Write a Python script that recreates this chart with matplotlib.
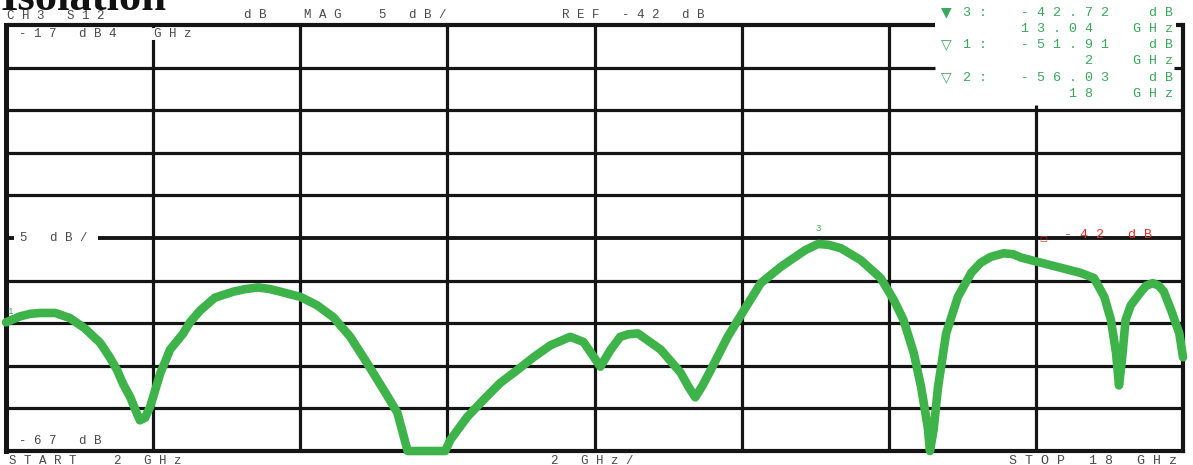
import matplotlib
matplotlib.use("Agg")
import matplotlib.pyplot as plt
import numpy as np

W, H = 1193, 465

# ---- data ----
freq_ghz = [2.0, 2.19, 2.33, 2.46, 2.67, 2.87, 3.07, 3.28, 3.41, 3.51, 3.59, 3.69,
            3.76, 3.82, 3.89, 3.96, 4.03, 4.10, 4.16, 4.23, 4.41, 4.50, 4.64, 4.84,
            5.09, 5.25, 5.43, 5.59, 5.73, 5.86, 6.0, 6.23, 6.45, 6.68, 6.91, 7.16,
            7.32, 7.46, 7.97, 8.04, 8.27, 8.49, 8.72, 8.95, 9.17, 9.40, 9.67, 9.85,
            9.97, 10.08, 10.15, 10.22, 10.35, 10.46, 10.59, 10.90, 11.17, 11.28, 11.37,
            11.47, 11.58, 11.81, 12.03, 12.26, 12.53, 12.80, 12.87, 13.04, 13.18,
            13.35, 13.62, 13.89, 14.07, 14.20, 14.34, 14.44, 14.53, 14.56, 14.61,
            14.67, 14.78, 14.94, 15.12, 15.25, 15.39, 15.56, 15.69, 15.80, 16.07,
            16.34, 16.61, 16.79, 16.93, 17.02, 17.09, 17.13, 17.17, 17.22, 17.29,
            17.43, 17.50, 17.59, 17.67, 17.74, 17.84, 17.95, 18.0]
s12_db = [-51.9, -51.2, -50.9, -50.8, -50.8, -51.4, -52.6, -54.3, -56.0, -57.5, -59.1, -60.7,
          -62.2, -63.4, -63.1, -61.8, -59.8, -57.8, -56.6, -55.1, -53.2, -51.9, -50.5, -49.0,
          -48.3, -48.0, -47.8, -48.0, -48.3, -48.6, -48.9, -49.9, -51.3, -53.6, -56.7, -60.2,
          -62.5, -67.0, -67.0, -65.7, -63.0, -61.0, -59.0, -57.5, -56.0, -54.6, -53.6, -54.2,
          -55.7, -57.1, -56.1, -55.1, -53.6, -53.3, -53.2, -55.1, -57.8, -59.5, -60.7,
          -59.3, -57.5, -53.6, -50.5, -47.3, -45.4, -43.8, -43.4, -42.7, -42.8,
          -43.2, -44.6, -46.7, -49.3, -51.6, -55.5, -59.5, -64.2, -67.0, -64.5,
          -59.5, -53.2, -48.9, -46.1, -44.9, -44.2, -43.8, -43.9, -44.3, -44.9,
          -45.5, -46.1, -46.7, -48.9, -51.6, -55.5, -59.3, -56.3, -51.6, -49.9,
          -48.3, -47.6, -47.3, -47.6, -48.3, -50.5, -53.2, -56.0]

start_ghz, stop_ghz, span_per_div = 2.0, 18.0, 2.0
ref_db, db_per_div = -42.0, 5.0
top_db, bottom_db = -17.0, -67.0

marker_names = ["3", "1", "2"]
marker_freq = [13.04, 2.0, 18.0]
marker_db = [-42.72, -51.91, -56.03]
marker_db_text = ["-42.72  dB", "-51.91  dB", "-56.03  dB"]
marker_freq_text = ["13.04  GHz", "2  GHz", "18  GHz"]

header_texts = ["CH3 S12", "dB  MAG  5 dB/", "REF -42 dB"]
footer_texts = ["START  2 GHz", "2 GHz/", "STOP 18 GHz"]
scale_texts = ["-17 dB4  GHz", "5 dB/", "-67 dB"]
limit_text = "-42 dB"

# ---- figure ----
fig = plt.figure(figsize=(W / 100, H / 100), dpi=100)
fig.patch.set_facecolor("white")
ax = fig.add_axes([6 / W, 14 / H, 1177 / W, 426 / H])
ax.set_xlim(start_ghz, stop_ghz)
ax.set_ylim(bottom_db, top_db)
ax.set_xticks([])
ax.set_yticks([])
ax.spines["top"].set_visible(False)
ax.spines["left"].set_linewidth(3.6)
ax.spines["bottom"].set_linewidth(3.0)
ax.spines["right"].set_linewidth(3.0)
for s in ax.spines.values():
    s.set_color("#151515")

GRID = "#151515"
GLW = 2.3


def px_to_f(xp):
    return start_ghz + (xp - 6) / 1177 * (stop_ghz - start_ghz)


def px_to_db(yp):
    return top_db - (yp - 25) / 426 * (top_db - bottom_db)


box_left_f = px_to_f(935)
# vertical divisions
for f in np.arange(start_ghz + span_per_div, stop_ghz, span_per_div):
    if abs(f - 16) < 1e-6:
        ax.vlines(f, bottom_db, px_to_db(105), color=GRID, lw=GLW, zorder=2)
    else:
        ax.vlines(f, bottom_db, top_db, color=GRID, lw=GLW, zorder=2)
# horizontal divisions
for d in np.arange(top_db, bottom_db, -db_per_div):
    if abs(d - top_db) < 1e-6:
        ax.hlines(d, start_ghz, box_left_f, color=GRID, lw=3.0, zorder=2, clip_on=False)
        ax.hlines(d, px_to_f(1176), stop_ghz, color=GRID, lw=3.0, zorder=2, clip_on=False)
    elif abs(d - (top_db - db_per_div)) < 1e-6:
        ax.hlines(d, start_ghz, box_left_f, color=GRID, lw=GLW, zorder=2)
        ax.hlines(d, px_to_f(1174), stop_ghz, color=GRID, lw=GLW, zorder=2)
    elif abs(d - ref_db) < 1e-6:
        ax.hlines(d, px_to_f(98), stop_ghz, color=GRID, lw=2.8, zorder=2)
        ax.hlines(d, start_ghz, px_to_f(14), color=GRID, lw=2.8, zorder=2)
    else:
        ax.hlines(d, start_ghz, stop_ghz, color=GRID, lw=GLW, zorder=2)

# trace
GREEN = "#3db34a"
ax.plot(freq_ghz, s12_db, color=GREEN, lw=6.2, solid_capstyle="round",
        solid_joinstyle="round", clip_on=False, zorder=5)

# ---- text ----
MONO = "Liberation Mono"
GRAY = "#4a4a4a"
MGREEN = "#3aa85a"
RED = "#e8302a"


def sp(s):
    return " ".join(list(s))


def ftext(xp, yp, s, size=9, color=GRAY, ha="left", family=MONO, **kw):
    fig.text(xp / W, 1 - yp / H, s, ha=ha, va="center", fontsize=size,
             color=color, family=family, **kw)


fig.text(1 / W, 1 - 10 / H, "Isolation", ha="left", va="baseline", fontsize=32,
         family="Liberation Serif", weight="bold", color="#111111")

ftext(7, 16, sp(header_texts[0]))
ftext(244, 15, sp(header_texts[1]))
ftext(562, 15, sp(header_texts[2]))

ftext(9, 461, sp(footer_texts[0]))
ftext(551, 461, sp(footer_texts[1]))
ftext(1009, 461, sp(footer_texts[2]), size=9.6)

ftext(19, 34, sp(scale_texts[0]), zorder=6,
      bbox=dict(facecolor="white", edgecolor="none", pad=0.1))
ftext(20, 238, sp(scale_texts[1]))
ftext(19, 441, sp(scale_texts[2]))

# marker readout box
rows_y = [13, 29, 45, 61, 78, 94]
syms = ["\u25BC", "\u25BD", "\u25BD"]
for i in range(3):
    ftext(946, rows_y[2 * i] - 1, syms[i], size=10, color=MGREEN, ha="center",
          family="DejaVu Sans")
    ftext(963, rows_y[2 * i], sp(marker_names[i] + ":"), size=9.6, color=MGREEN)
    ftext(1173, rows_y[2 * i], sp(marker_db_text[i]), size=9.6, color=MGREEN, ha="right")
    ftext(1173, rows_y[2 * i + 1], sp(marker_freq_text[i]), size=9.6, color=MGREEN, ha="right")

# limit line label (red)
ftext(1043, 238, "\u25A1", size=6, color=RED, ha="center", family="DejaVu Sans")
ftext(1064, 235, sp(limit_text), size=9.6, color=RED)

# marker labels on trace
ax.annotate(marker_names[0], (marker_freq[0], marker_db[0]), xytext=(0, 11),
            textcoords="offset points", ha="center", va="center", fontsize=6.5,
            color=MGREEN, family=MONO)
ax.annotate(marker_names[1], (marker_freq[1], marker_db[1]), xytext=(3, 8),
            textcoords="offset points", ha="center", va="center", fontsize=6.5,
            color=MGREEN, family=MONO, annotation_clip=False, zorder=6)

fig.savefig("out.png", dpi=100, facecolor="white")
